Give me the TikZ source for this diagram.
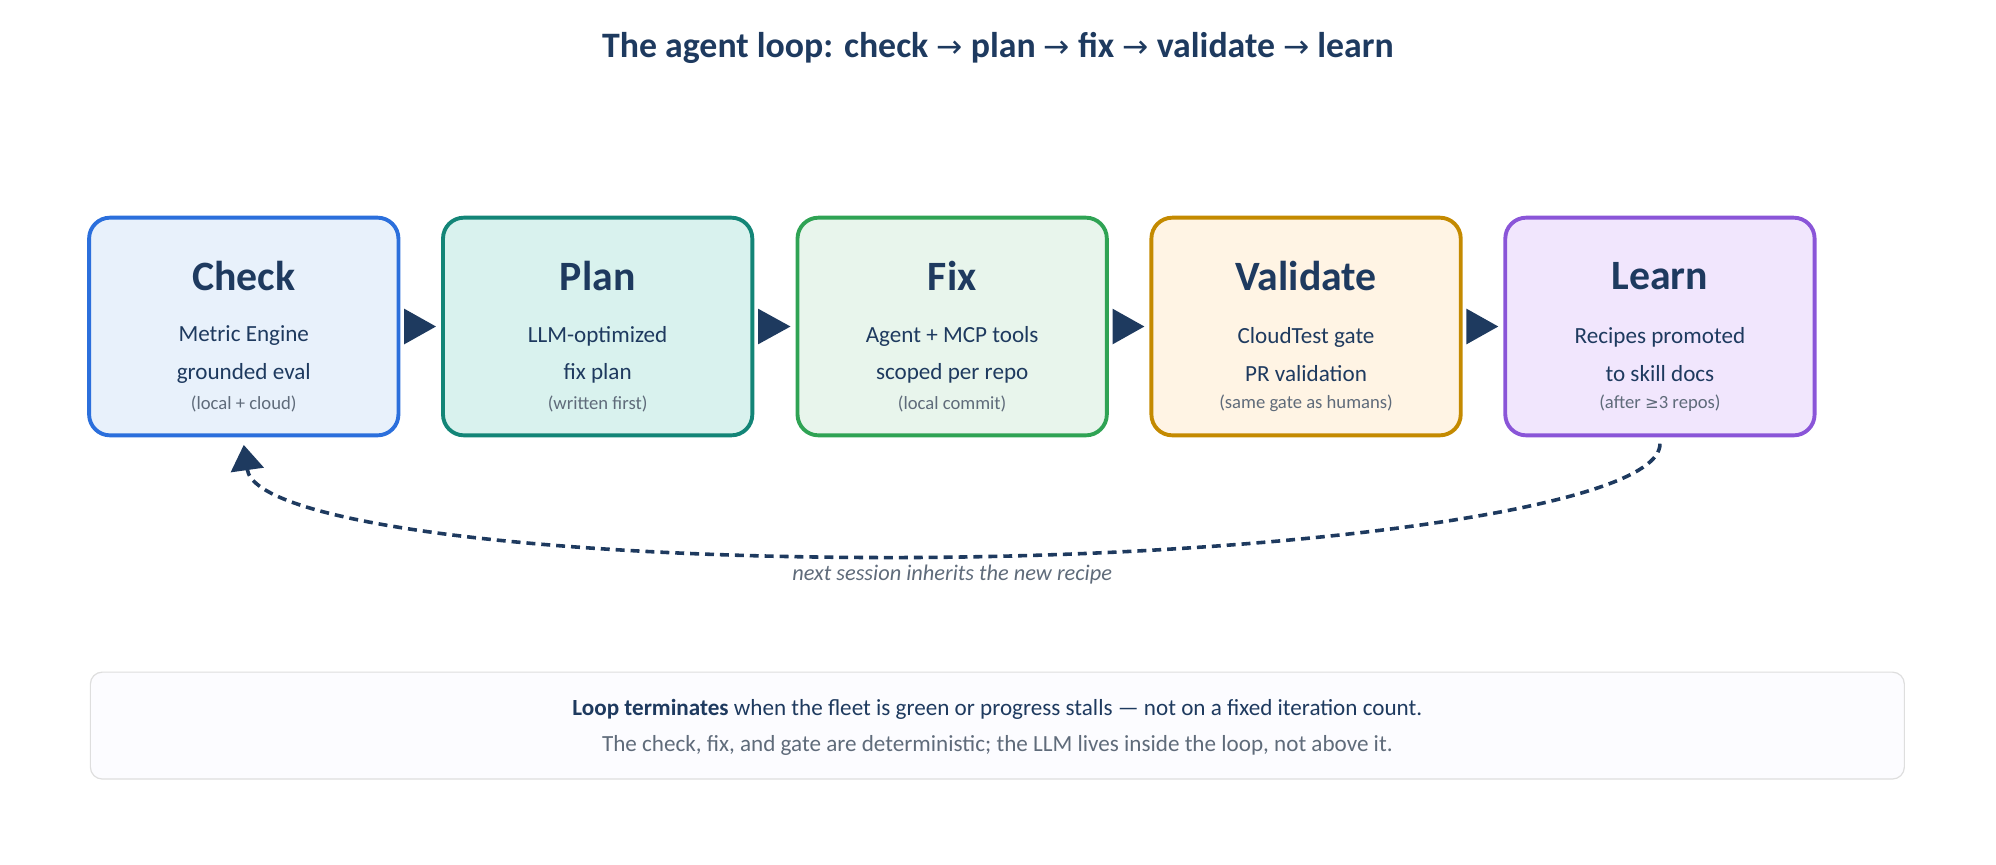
\documentclass[tikz,border=0pt]{standalone}
\usepackage{fontspec}
\setmainfont{Carlito}
\newfontfamily\sym{DejaVu Sans}
\usetikzlibrary{arrows.meta,calc}
\definecolor{navy}{HTML}{1E3A5F}
\definecolor{grey}{HTML}{5F6B7A}
\definecolor{cB}{HTML}{2B6FDC}\definecolor{fB}{HTML}{E8F1FB}
\definecolor{cT}{HTML}{138577}\definecolor{fT}{HTML}{D9F2EE}
\definecolor{cG}{HTML}{2FA354}\definecolor{fG}{HTML}{E8F5EC}
\definecolor{cO}{HTML}{C48A00}\definecolor{fO}{HTML}{FFF4E4}
\definecolor{cP}{HTML}{8A55D8}\definecolor{fP}{HTML}{F1E6FD}
\newcommand{\ar}{{\sym\mdseries\fontsize{21}{24}\selectfont\raisebox{0pt}{→}}}
\begin{document}
\begin{tikzpicture}[x=0.03cm,y=-0.03cm,
 box/.style={draw=#1,line width=2.6pt,rounded corners=14pt,minimum width=243*0.03cm,minimum height=171*0.03cm,inner sep=0pt},
 btitle/.style={font=\fontsize{28}{30}\selectfont\bfseries,text=navy},
 bbody/.style={font=\fontsize{15.5}{25}\selectfont,text=navy,align=center},
 bsmall/.style={font=\fontsize{12.5}{13}\selectfont,text=grey},
 tri/.style={fill=navy}]
\useasboundingbox (0,0) rectangle (1568,679);
\node[font=\fontsize{24}{25}\selectfont\bfseries,text=navy] (title) at (784,38) {The agent loop: check \ar{} plan \ar{} fix \ar{} validate \ar{} learn};
\foreach \n/\x/\c/\f/\t/\a/\b/\s in {
 check/191.5/cB/fB/Check/Metric Engine/grounded eval/(local + cloud),
 plan/469.5/cT/fT/Plan/LLM-optimized/fix plan/(written first),
 fix/748/cG/fG/Fix/Agent + MCP tools/scoped per repo/(local commit),
 validate/1026/cO/fO/Validate/CloudTest gate/PR validation/(same gate as humans),
 learn/1304/cP/fP/Learn/Recipes promoted/to skill docs/(after {\sym\fontsize{11}{13}\selectfont ≥}3 repos)}{
 \node[box=\c,fill=\f] (\n) at (\x,256.5) {};
 \node[btitle] (\n-t) at (\x,217) {\t};
 \node[bbody] (\n-b) at (\x,278.5) {\a\\\b};
 \node[bsmall] (\n-s) at (\x,317) {\s};
}
\foreach \p/\q in {check/plan,plan/fix,fix/validate,validate/learn}{
 \fill[tri] ($(\p.east)+(3,-14)$) -- ($(\q.west)+(-4,0)$) -- ($(\p.east)+(3,14)$) -- cycle;
}
\draw[navy,line width=2.4pt,dash pattern=on 6pt off 4pt,-{Triangle[length=17pt,width=22pt]}]
 ($(learn.south)+(0,5)$) .. controls (1305,400) and (1000,438) .. (700,438)
 .. controls (420,438) and (200,410) .. ($(check.south)+(0,6)$);
\node[font=\fontsize{15}{15}\selectfont\itshape,text=grey] (lbl) at (748,451) {next session inherits the new recipe};
\node[draw=black!13,fill=black!2!blue!1,line width=0.8pt,rounded corners=8pt,minimum width=1425*0.03cm,minimum height=84*0.03cm] (note) at (783.5,570) {};
\node[font=\fontsize{15.5}{15}\selectfont,text=navy] (n1) at (783.5,557) {\textbf{Loop terminates} when the fleet is green or progress stalls — not on a fixed iteration count.};
\node[font=\fontsize{15.5}{15}\selectfont,text=grey] (n2) at (783.5,586) {The check, fix, and gate are deterministic; the LLM lives inside the loop, not above it.};
\end{tikzpicture}
\end{document}
